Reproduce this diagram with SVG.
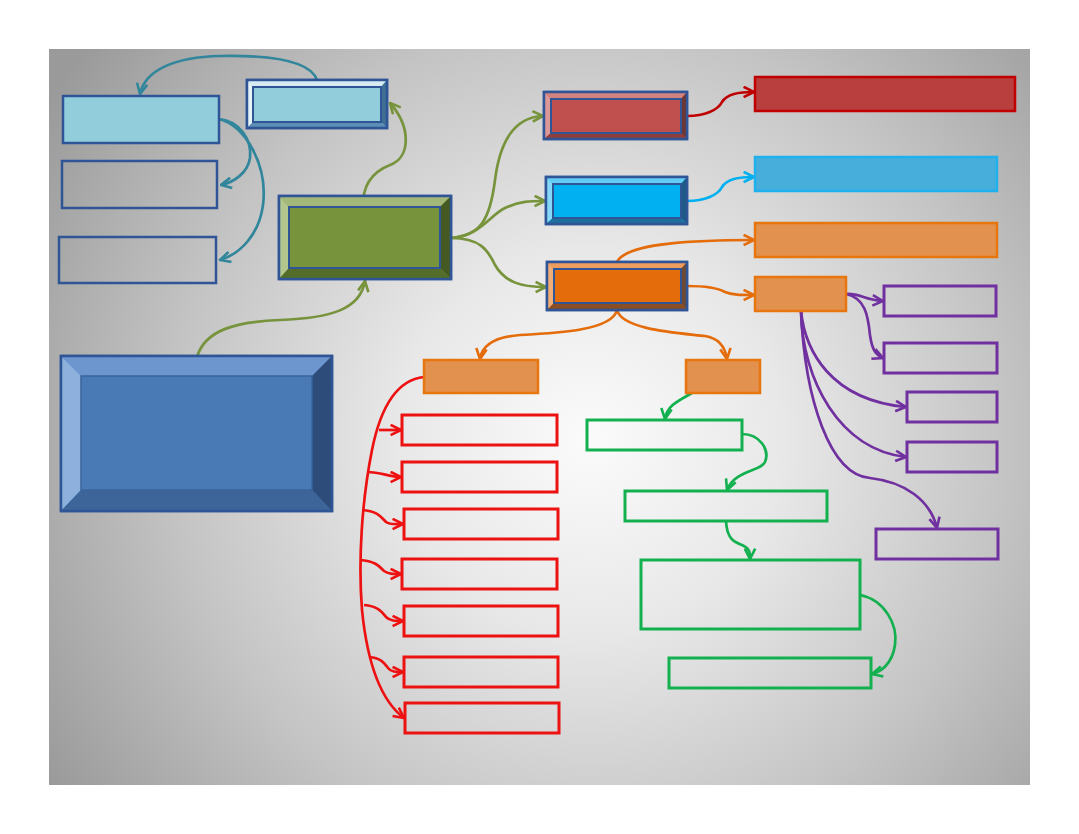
<svg xmlns="http://www.w3.org/2000/svg" width="1079" height="834" viewBox="0 0 1079 834">
<defs>
<radialGradient id="bg" gradientUnits="userSpaceOnUse" cx="590" cy="440" r="640">
<stop offset="0" stop-color="#fbfbfb"/>
<stop offset="0.3" stop-color="#e8e8e8"/>
<stop offset="0.65" stop-color="#c4c4c4"/>
<stop offset="1" stop-color="#9a9a9a"/>
</radialGradient>
<marker id="m-teal" viewBox="0 0 10 10" refX="9" refY="5" markerWidth="13" markerHeight="13" markerUnits="userSpaceOnUse" orient="auto"><path d="M1,1 L9,5 L1,9" fill="none" stroke="#31869B" stroke-width="2"/></marker>
<marker id="m-olive" viewBox="0 0 10 10" refX="9" refY="5" markerWidth="13" markerHeight="13" markerUnits="userSpaceOnUse" orient="auto"><path d="M1,1 L9,5 L1,9" fill="none" stroke="#77933C" stroke-width="2"/></marker>
<marker id="m-dred" viewBox="0 0 10 10" refX="9" refY="5" markerWidth="13" markerHeight="13" markerUnits="userSpaceOnUse" orient="auto"><path d="M1,1 L9,5 L1,9" fill="none" stroke="#C00000" stroke-width="2"/></marker>
<marker id="m-sky" viewBox="0 0 10 10" refX="9" refY="5" markerWidth="13" markerHeight="13" markerUnits="userSpaceOnUse" orient="auto"><path d="M1,1 L9,5 L1,9" fill="none" stroke="#00B0F0" stroke-width="2"/></marker>
<marker id="m-orange" viewBox="0 0 10 10" refX="9" refY="5" markerWidth="13" markerHeight="13" markerUnits="userSpaceOnUse" orient="auto"><path d="M1,1 L9,5 L1,9" fill="none" stroke="#E46C0A" stroke-width="2"/></marker>
<marker id="m-purple" viewBox="0 0 10 10" refX="9" refY="5" markerWidth="13" markerHeight="13" markerUnits="userSpaceOnUse" orient="auto"><path d="M1,1 L9,5 L1,9" fill="none" stroke="#7030A0" stroke-width="2"/></marker>
<marker id="m-red" viewBox="0 0 10 10" refX="9" refY="5" markerWidth="13" markerHeight="13" markerUnits="userSpaceOnUse" orient="auto"><path d="M1,1 L9,5 L1,9" fill="none" stroke="#EE1111" stroke-width="2"/></marker>
<marker id="m-green" viewBox="0 0 10 10" refX="9" refY="5" markerWidth="13" markerHeight="13" markerUnits="userSpaceOnUse" orient="auto"><path d="M1,1 L9,5 L1,9" fill="none" stroke="#12B04E" stroke-width="2"/></marker>
</defs>
<style>
.c{fill:none;stroke-width:2.7;}
.bv{stroke:#2F5597;stroke-width:2.5;}
.bi{stroke:#2F5597;stroke-width:2;}
.plain{fill:none;stroke:#2F5597;stroke-width:2.5;}
.rb{fill:none;stroke:#EE1111;stroke-width:3;}
.gb{fill:none;stroke:#12B04E;stroke-width:3;}
.pb{fill:none;stroke:#7030A0;stroke-width:3;}
.ob{fill:#E2914F;stroke:#E8760F;stroke-width:2.5;}
</style>
<rect x="0" y="0" width="1079" height="834" fill="#ffffff"/>
<rect x="49" y="49" width="981" height="736" fill="url(#bg)"/>

<g id="connectors">
<path class="c" stroke="#31869B" marker-end="url(#m-teal)" d="M317,80 C310,60 270,55 220,56 C175,57 145,70 140,94"/>
<path class="c" stroke="#31869B" marker-end="url(#m-teal)" d="M219,119 C240,121 252,140 250,158 C248,172 235,182 221,185"/>
<path class="c" stroke="#31869B" marker-end="url(#m-teal)" d="M219,119 C245,125 268,165 263,205 C259,235 240,254 220,260"/>
<path class="c" stroke="#77933C" marker-end="url(#m-olive)" d="M363,208 C362,185 372,172 390,165 C410,158 412,128 390,103"/>
<path class="c" stroke="#77933C" marker-end="url(#m-olive)" d="M197,357 C205,330 235,322 280,320 C330,318 360,310 365,281"/>
<path class="c" stroke="#77933C" marker-end="url(#m-olive)" d="M451,238 C480,236 490,220 495,180 C500,140 515,117 543,116"/>
<path class="c" stroke="#77933C" marker-end="url(#m-olive)" d="M451,238 C480,236 490,215 505,208 C520,201 530,201 545,201"/>
<path class="c" stroke="#77933C" marker-end="url(#m-olive)" d="M451,238 C480,238 488,250 495,265 C505,282 520,287 546,287"/>
<path class="c" stroke="#C00000" marker-end="url(#m-dred)" d="M687,116 C705,116 718,110 722,102 C727,94 738,92 754,92"/>
<path class="c" stroke="#00B0F0" marker-end="url(#m-sky)" d="M687,201 C705,201 718,195 722,187 C727,179 738,177 754,177"/>
<path class="c" stroke="#E46C0A" marker-end="url(#m-orange)" d="M617,262 C625,245 680,240 754,240"/>
<path class="c" stroke="#E46C0A" marker-end="url(#m-orange)" d="M687,286 C705,286 718,288 725,292 C732,295 740,295 754,295"/>
<path class="c" stroke="#E46C0A" marker-end="url(#m-orange)" d="M617,310 C612,330 560,333 520,335 C495,337 482,345 480,359"/>
<path class="c" stroke="#E46C0A" marker-end="url(#m-orange)" d="M617,310 C622,330 680,333 705,336 C718,338 725,346 727,359"/>
<path class="c" stroke="#EE1111" marker-end="url(#m-red)" d="M424,377 C395,380 380,410 372,450 C362,500 358,560 362,610 C367,660 380,700 404,718"/>
<path class="c" stroke="#EE1111" marker-end="url(#m-red)" d="M379,430 L401,430"/>
<path class="c" stroke="#EE1111" marker-end="url(#m-red)" d="M367,472 C382,472 388,477 401,477"/>
<path class="c" stroke="#EE1111" marker-end="url(#m-red)" d="M362,510 C378,511 382,518 386,522 C390,525 395,524 403,524"/>
<path class="c" stroke="#EE1111" marker-end="url(#m-red)" d="M360,560 C376,561 380,567 384,571 C388,574 393,574 401,574"/>
<path class="c" stroke="#EE1111" marker-end="url(#m-red)" d="M364,605 C378,606 382,612 386,617 C390,621 395,621 403,621"/>
<path class="c" stroke="#EE1111" marker-end="url(#m-red)" d="M369,657 C382,658 385,664 388,668 C391,672 396,672 403,672"/>
<path class="c" stroke="#12B04E" marker-end="url(#m-green)" d="M692,393 C680,400 667,405 665,419"/>
<path class="c" stroke="#12B04E" marker-end="url(#m-green)" d="M742,434 C760,434 770,450 765,462 C760,472 735,470 727,490"/>
<path class="c" stroke="#12B04E" marker-end="url(#m-green)" d="M726,521 C727,540 735,542 742,545 C750,549 750,552 750,559"/>
<path class="c" stroke="#12B04E" marker-end="url(#m-green)" d="M860,595 C885,600 898,625 895,645 C892,665 880,672 872,674"/>
<path class="c" stroke="#7030A0" marker-end="url(#m-purple)" d="M846,294 C860,293 865,300 883,301"/>
<path class="c" stroke="#7030A0" marker-end="url(#m-purple)" d="M846,294 C865,298 868,315 870,335 C872,350 876,355 883,358"/>
<path class="c" stroke="#7030A0" marker-end="url(#m-purple)" d="M801,311 C805,350 830,400 906,407"/>
<path class="c" stroke="#7030A0" marker-end="url(#m-purple)" d="M801,311 C802,380 840,450 906,457"/>
<path class="c" stroke="#7030A0" marker-end="url(#m-purple)" d="M801,311 C805,400 830,475 870,478 C905,482 930,500 937,528"/>
</g>

<g id="node-a"><rect x="63" y="96" width="156" height="47" class="plain" style="fill:#92CDDC"/></g>
<g id="node-b"><rect x="62" y="161" width="155" height="47" class="plain"/></g>
<g id="node-c"><rect x="59" y="237" width="157" height="46" class="plain"/></g>

<g id="node-d">
<rect x="247" y="80" width="140" height="48" fill="#92CDDC" class="bv"/>
<polygon points="247,80 387,80 381,87 253,87" fill="#D6ECF2"/>
<polygon points="247,80 253,87 253,122 247,128" fill="#E6F3F7"/>
<polygon points="387,80 387,128 381,122 381,87" fill="#3F6F95"/>
<polygon points="247,128 253,122 381,122 387,128" fill="#5B8DB5"/>
<rect x="253" y="87" width="128" height="35" fill="#92CDDC" class="bi"/>
<rect x="247" y="80" width="140" height="48" fill="none" class="bv"/>
</g>

<g id="node-green">
<rect x="279" y="196" width="172" height="83" fill="#77933C" class="bv"/>
<polygon points="279,196 451,196 440,207 289,207" fill="#A3B878"/>
<polygon points="279,196 289,207 289,268 279,279" fill="#B3C68E"/>
<polygon points="451,196 451,279 440,268 440,207" fill="#455A22"/>
<polygon points="279,279 289,268 440,268 451,279" fill="#546D2A"/>
<rect x="289" y="207" width="151" height="61" fill="#77933C" class="bi"/>
<rect x="279" y="196" width="172" height="83" fill="none" class="bv"/>
</g>

<g id="node-bigblue">
<rect x="61" y="356" width="271" height="155" fill="#4A7AB5" class="bv"/>
<polygon points="61,356 332,356 312,376 81,376" fill="#6D96CF"/>
<polygon points="61,356 81,376 81,490 61,511" fill="#8DB0DD"/>
<polygon points="332,356 332,511 312,490 312,376" fill="#2E4C7A"/>
<polygon points="61,511 81,490 312,490 332,511" fill="#3E6599"/>
<rect x="81" y="376" width="231" height="114" fill="#4A7AB5" stroke="#3A639A" stroke-width="1.5"/>
<rect x="61" y="356" width="271" height="155" fill="none" class="bv"/>
</g>

<g id="node-red">
<rect x="544" y="92" width="143" height="47" fill="#C0504D" class="bv"/>
<polygon points="544,92 687,92 681,99 551,99" fill="#D2827F"/>
<polygon points="544,92 551,99 551,133 544,139" fill="#DC9896"/>
<polygon points="687,92 687,139 681,133 681,99" fill="#6E3535"/>
<polygon points="544,139 551,133 681,133 687,139" fill="#8C3F3D"/>
<rect x="551" y="99" width="130" height="34" fill="#C0504D" class="bi"/>
<rect x="544" y="92" width="143" height="47" fill="none" class="bv"/>
</g>
<g id="node-blue">
<rect x="546" y="177" width="141" height="47" fill="#00B0F0" class="bv"/>
<polygon points="546,177 687,177 681,184 553,184" fill="#63CCF5"/>
<polygon points="546,177 553,184 553,218 546,224" fill="#85D8F7"/>
<polygon points="687,177 687,224 681,218 681,184" fill="#1D5A86"/>
<polygon points="546,224 553,218 681,218 687,224" fill="#1F6F9E"/>
<rect x="553" y="184" width="128" height="34" fill="#00B0F0" class="bi"/>
<rect x="546" y="177" width="141" height="47" fill="none" class="bv"/>
</g>
<g id="node-orange">
<rect x="547" y="262" width="140" height="48" fill="#E46C0A" class="bv"/>
<polygon points="547,262 687,262 681,269 554,269" fill="#EE9D5F"/>
<polygon points="547,262 554,269 554,303 547,310" fill="#F2AD75"/>
<polygon points="687,262 687,310 681,303 681,269" fill="#6E4A32"/>
<polygon points="547,310 554,303 681,303 687,310" fill="#8A4E25"/>
<rect x="554" y="269" width="127" height="34" fill="#E46C0A" class="bi"/>
<rect x="547" y="262" width="140" height="48" fill="none" class="bv"/>
</g>

<g id="node-r1"><rect x="755" y="77" width="260" height="34" fill="#B93E3E" stroke="#C00000" stroke-width="2.5"/></g>
<g id="node-r2"><rect x="755" y="157" width="242" height="34" fill="#47AEDB" stroke="#1EB1EE" stroke-width="2.5"/></g>
<g id="node-r3"><rect x="755" y="223" width="242" height="34" class="ob"/></g>
<g id="node-r4"><rect x="755" y="277" width="91" height="34" class="ob"/></g>

<g id="node-p1"><rect x="884" y="286" width="112" height="30" class="pb"/></g>
<g id="node-p2"><rect x="884" y="343" width="113" height="30" class="pb"/></g>
<g id="node-p3"><rect x="907" y="392" width="90" height="30" class="pb"/></g>
<g id="node-p4"><rect x="907" y="442" width="90" height="30" class="pb"/></g>
<g id="node-p5"><rect x="876" y="529" width="122" height="30" class="pb"/></g>

<g id="node-o1"><rect x="424" y="360" width="114" height="33" class="ob"/></g>
<g id="node-o2"><rect x="686" y="360" width="74" height="33" class="ob"/></g>

<g id="node-red1"><rect x="402" y="415" width="155" height="30" class="rb"/></g>
<g id="node-red2"><rect x="402" y="462" width="155" height="30" class="rb"/></g>
<g id="node-red3"><rect x="404" y="509" width="154" height="30" class="rb"/></g>
<g id="node-red4"><rect x="402" y="559" width="155" height="30" class="rb"/></g>
<g id="node-red5"><rect x="404" y="606" width="154" height="30" class="rb"/></g>
<g id="node-red6"><rect x="404" y="657" width="154" height="30" class="rb"/></g>
<g id="node-red7"><rect x="405" y="703" width="154" height="30" class="rb"/></g>

<g id="node-g1"><rect x="587" y="420" width="155" height="30" class="gb"/></g>
<g id="node-g2"><rect x="625" y="491" width="202" height="30" class="gb"/></g>
<g id="node-g3"><rect x="641" y="560" width="219" height="69" class="gb"/></g>
<g id="node-g4"><rect x="669" y="658" width="202" height="30" class="gb"/></g>
</svg>
